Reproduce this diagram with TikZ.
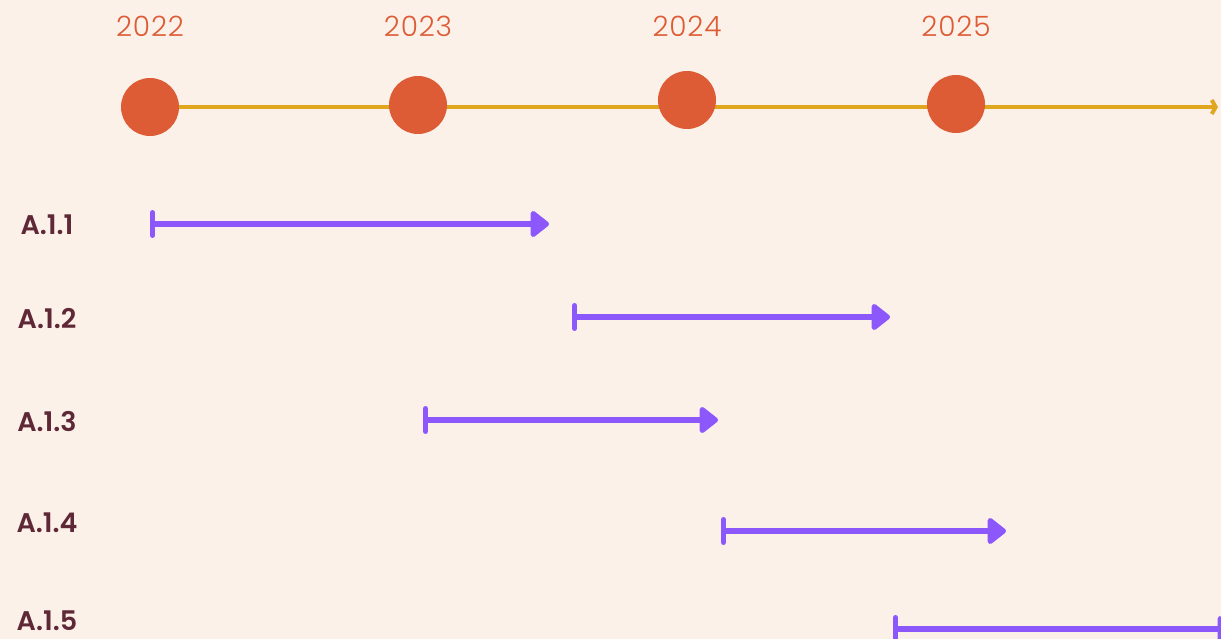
\documentclass[tikz,border=0pt]{standalone}
\usepackage{fontspec}
\setmainfont{Poppins}
\newfontfamily\yearfont[LetterSpace=3]{Poppins Light}
\newfontfamily\labelfont{Poppins SemiBold}
\usetikzlibrary{arrows.meta}
\definecolor{bgcream}{HTML}{FCF1E9}
\definecolor{dotorange}{HTML}{DD5B35}
\definecolor{linegold}{HTML}{E0A71E}
\definecolor{taskpurple}{HTML}{8C57FB}
\definecolor{labelwine}{HTML}{5E2837}

\begin{document}
\begin{tikzpicture} [x=1pt, y=-1pt,
  yeardot/.style={circle, fill=dotorange, minimum size=58pt, inner sep=0pt},
  yearlabel/.style={anchor=base, text=dotorange, font=\yearfont\fontsize{28}{28}\selectfont},
  tasklabel/.style={anchor=base, inner sep=0pt, text=labelwine, font=\labelfont\fontsize{27}{27}\selectfont},
  task/.style={taskpurple, line width=6pt, {Bar[width=23pt, line width=5pt, line cap=round]}-{Triangle[round, length=20pt, width=30pt]}}]
\useasboundingbox (0,0) rectangle (1221,639);
\fill[bgcream] (0,0) rectangle (1221,639);

% time axis
\coordinate (tstart) at (150,107);
\coordinate (tend) at (1218,107);
\draw[linegold, line width=4pt, -{Straight Barb[length=4pt, width=14pt]}] (tstart) -- (tend);

\foreach \yr/\cx/\cy in {2022/150/107, 2023/418/105, 2024/687/100, 2025/956/104} {
  \node[yeardot] (d\yr) at (\cx,\cy) {};
  \node[yearlabel] (y\yr) at (\cx,37) {\yr};
}

% activities
\foreach \i/\sx/\ex/\ty/\bl in {1/150/549/224/235, 2/572/890/317/328, 3/423/718/420/431, 4/721/1006/531/532, 5/893/1236/629/630} {
  \node[tasklabel] (lab\i) at (47,\bl) {A.1.\i};
  \coordinate (s\i) at (\sx,\ty);
  \coordinate (e\i) at (\ex,\ty);
  \draw[task] (s\i) -- (e\i);
}

\end{tikzpicture}
\end{document}
